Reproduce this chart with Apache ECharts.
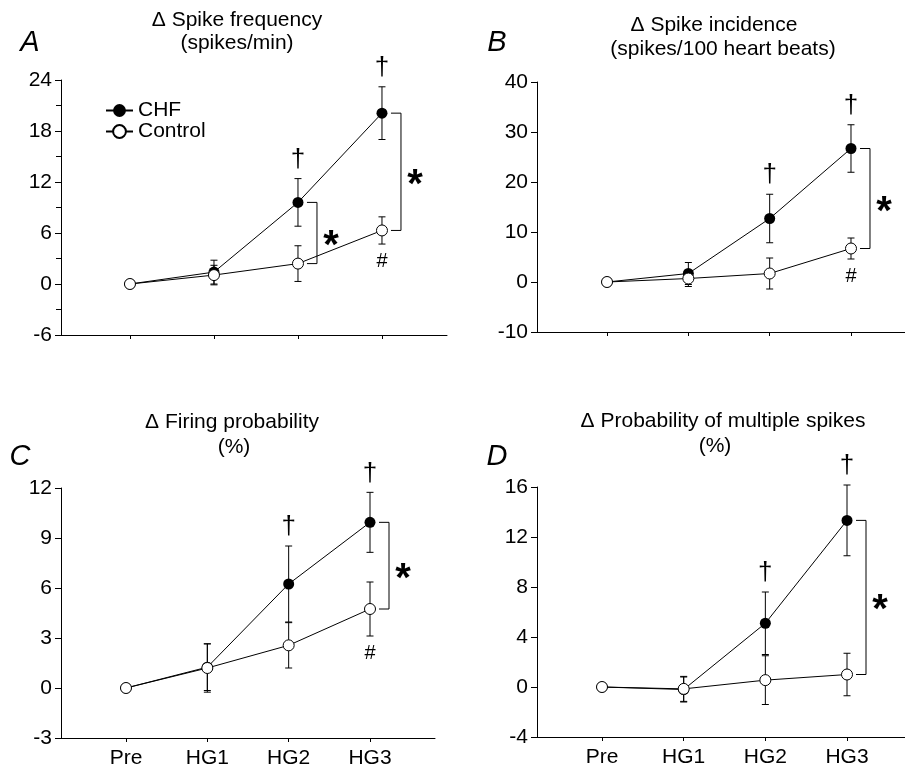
<!DOCTYPE html>
<html>
<head>
<meta charset="utf-8">
<script src="https://cdn.jsdelivr.net/npm/echarts@6/dist/echarts.min.js"></script>
<style>
html, body { margin: 0; padding: 0; background: #fff; }
#chart { width: 905px; height: 770px; }
</style>
</head>
<body>
<div id="chart"></div>
<script>
const categories = ['Pre', 'HG1', 'HG2', 'HG3'];

// A - spike frequency (spikes/min)
const chfA = [0, 1.4, 9.6, 20.1];
const chfAErr = [0, 1.4, 2.8, 3.1];
const ctlA = [0, 1.05, 2.4, 6.3];
const ctlAErr = [0, 1.15, 2.1, 1.6];

// B - spike incidence (spikes/100 heart beats)
const chfB = [0, 1.7, 12.7, 26.7];
const chfBErr = [0, 2.2, 4.85, 4.75];
const ctlB = [0, 0.7, 1.7, 6.7];
const ctlBErr = [0, 1.6, 3.1, 2.1];

// C - firing probability (%)
const chfC = [0, 1.25, 6.24, 9.94];
const chfCErr = [0, 1.4, 2.28, 1.8];
const ctlC = [0, 1.2, 2.56, 4.74];
const ctlCErr = [0, 1.45, 1.36, 1.62];

// D - probability of multiple spikes (%)
const chfD = [0, -0.2, 5.1, 13.33];
const chfDErr = [0, 1.0, 2.5, 2.83];
const ctlD = [0, -0.15, 0.55, 1.0];
const ctlDErr = [0, 1.0, 1.95, 1.7];

const FONT = '"Liberation Sans", Arial, Helvetica, sans-serif';

let panels = [
    {letter: 'A', title1: '\u0394 Spike frequency', title2: '(spikes/min)',
     t1: [237, 20], t2: [237, 43], lp: [30, 43],
     grid: {left: 61, top: 80, width: 386, height: 255}, xmin: -0.821, xmax: 3.774,
     ymin: -6, ymax: 24, step: 6, minor: true, xlabels: false,
     chf: chfA, chfErr: chfAErr, ctl: ctlA, ctlErr: ctlAErr,
     dagger: [2, 3], hash: [3], bracket: [2, 3]},
    {letter: 'B', title1: '\u0394 Spike incidence', title2: '(spikes/100 heart beats)',
     t1: [714, 25], t2: [723, 49], lp: [497, 43],
     grid: {left: 537, top: 82, width: 368, height: 250}, xmin: -0.861, xmax: 3.664,
     ymin: -10, ymax: 40, step: 10, minor: false, xlabels: false,
     chf: chfB, chfErr: chfBErr, ctl: ctlB, ctlErr: ctlBErr,
     dagger: [2, 3], hash: [3], bracket: [3]},
    {letter: 'C', title1: '\u0394 Firing probability', title2: '(%)',
     t1: [232, 422], t2: [234, 447], lp: [20, 457],
     grid: {left: 61, top: 488, width: 374, height: 250}, xmin: -0.799, xmax: 3.799,
     ymin: -3, ymax: 12, step: 3, minor: false, xlabels: true,
     chf: chfC, chfErr: chfCErr, ctl: ctlC, ctlErr: ctlCErr,
     dagger: [2, 3], hash: [3], bracket: [3]},
    {letter: 'D', title1: '\u0394 Probability of multiple spikes', title2: '(%)',
     t1: [723, 421], t2: [715, 446], lp: [497, 457],
     grid: {left: 537, top: 487, width: 368, height: 250}, xmin: -0.796, xmax: 3.71,
     ymin: -4, ymax: 16, step: 4, minor: false, xlabels: true,
     chf: chfD, chfErr: chfDErr, ctl: ctlD, ctlErr: ctlDErr,
     dagger: [2, 3], hash: [], bracket: [3]}
];

let black = {color: '#000', width: 1};

function errItem(params, api) {
    let a = api.coord([api.value(0), api.value(1)]);
    let b = api.coord([api.value(0), api.value(2)]);
    let w = 3.5;
    let st = {stroke: '#000', lineWidth: 1};
    return {type: 'group', children: [
        {type: 'line', shape: {x1: a[0], y1: a[1], x2: b[0], y2: b[1]}, style: st},
        {type: 'line', shape: {x1: a[0] - w, y1: a[1], x2: a[0] + w, y2: a[1]}, style: st},
        {type: 'line', shape: {x1: b[0] - w, y1: b[1], x2: b[0] + w, y2: b[1]}, style: st}
    ]};
}

function glyph(text, font, dy) {
    return function (params, api) {
        let p = api.coord([api.value(0), api.value(1)]);
        return {type: 'text', x: p[0], y: p[1] + dy,
            style: {text: text, font: font, fill: '#000', textAlign: 'center', textVerticalAlign: 'middle'}};
    };
}

function bracketItem(params, api) {
    let a = api.coord([api.value(0), api.value(1)]);
    let b = api.coord([api.value(0), api.value(2)]);
    let x0 = a[0] + 9, x1 = a[0] + 19;
    return {type: 'group', children: [
        {type: 'polyline', shape: {points: [[x0, a[1]], [x1, a[1]], [x1, b[1]], [x0, b[1]]]},
         style: {stroke: '#000', lineWidth: 1, fill: null}},
        {type: 'text', x: x1 + 14, y: (a[1] + b[1]) / 2 + 14,
         style: {text: '*', font: 'bold 40px ' + FONT, fill: '#000', textAlign: 'center', textVerticalAlign: 'middle'}}
    ]};
}

let grids = [], xAxes = [], yAxes = [], series = [], graphics = [];

panels.forEach(function (p, i) {
    grids.push(p.grid);
    xAxes.push({
        type: 'value', gridIndex: i, min: p.xmin, max: p.xmax,
        axisLine: {onZero: false, lineStyle: black},
        axisTick: {show: true, length: 4, customValues: [0, 1, 2, 3], lineStyle: black},
        axisLabel: {show: p.xlabels, customValues: [0, 1, 2, 3], margin: 10,
            formatter: function (v) { return categories[Math.round(v)]; },
            color: '#000', fontSize: 21, fontFamily: FONT},
        splitLine: {show: false}
    });
    yAxes.push({
        type: 'value', gridIndex: i, min: p.ymin, max: p.ymax, interval: p.step,
        axisLine: {show: true, onZero: false, lineStyle: black},
        axisTick: {show: true, length: 6, lineStyle: black},
        minorTick: {show: p.minor, splitNumber: 2, length: 5, lineStyle: black},
        axisLabel: {color: '#000', fontSize: 21, fontFamily: FONT, margin: 9},
        splitLine: {show: false}
    });

    let pts = function (arr) { return arr.map(function (v, k) { return [k, v]; }); };
    let errs = function (arr, e) {
        return arr.map(function (v, k) { return [k, v - e[k], v + e[k]]; })
            .filter(function (d, k) { return e[k] > 0; });
    };

    series.push({type: 'custom', xAxisIndex: i, yAxisIndex: i, z: 1, silent: true,
        renderItem: errItem, encode: {x: 0, y: [1, 2]}, data: errs(p.chf, p.chfErr)});
    series.push({type: 'custom', xAxisIndex: i, yAxisIndex: i, z: 1, silent: true,
        renderItem: errItem, encode: {x: 0, y: [1, 2]}, data: errs(p.ctl, p.ctlErr)});
    series.push({name: 'CHF', type: 'line', xAxisIndex: i, yAxisIndex: i, z: 3,
        symbol: 'circle', symbolSize: 11, showAllSymbol: true,
        lineStyle: black, itemStyle: {color: '#000'}, data: pts(p.chf)});
    series.push({name: 'Control', type: 'line', xAxisIndex: i, yAxisIndex: i, z: 4,
        symbol: 'circle', symbolSize: 11, showAllSymbol: true,
        lineStyle: black, itemStyle: {color: '#fff', borderColor: '#000', borderWidth: 1},
        data: pts(p.ctl)});
    series.push({type: 'custom', xAxisIndex: i, yAxisIndex: i, z: 5, silent: true,
        renderItem: glyph('\u2020', '26px ' + FONT, -19), encode: {x: 0, y: 1},
        data: p.dagger.map(function (k) { return [k, p.chf[k] + p.chfErr[k]]; })});
    series.push({type: 'custom', xAxisIndex: i, yAxisIndex: i, z: 5, silent: true,
        renderItem: glyph('#', '20px ' + FONT, 17), encode: {x: 0, y: 1},
        data: p.hash.map(function (k) { return [k, p.ctl[k] - p.ctlErr[k]]; })});
    series.push({type: 'custom', xAxisIndex: i, yAxisIndex: i, z: 5, silent: true,
        renderItem: bracketItem, encode: {x: 0, y: [1, 2]},
        data: p.bracket.map(function (k) { return [k, p.chf[k], p.ctl[k]]; })});

    [[p.title1, p.t1], [p.title2, p.t2]].forEach(function (t) {
        graphics.push({type: 'text', x: t[1][0], y: t[1][1],
            style: {text: t[0], font: '21px ' + FONT, fill: '#000', textAlign: 'center', textVerticalAlign: 'middle'}});
    });
    graphics.push({type: 'text', x: p.lp[0], y: p.lp[1],
        style: {text: p.letter, font: 'italic 29px ' + FONT, fill: '#000', textAlign: 'center', textVerticalAlign: 'middle'}});
});

let chart = echarts.init(document.getElementById('chart'));
chart.setOption({
    animation: false,
    backgroundColor: '#fff',
    textStyle: {fontFamily: FONT},
    legend: {
        orient: 'vertical', left: 100, top: 95, itemWidth: 27, itemHeight: 16, itemGap: 0,
        data: ['CHF', 'Control'], selectedMode: false,
        textStyle: {fontSize: 21, lineHeight: 19, color: '#000'}
    },
    grid: grids,
    xAxis: xAxes,
    yAxis: yAxes,
    series: series,
    graphic: graphics
});
</script>
</body>
</html>
